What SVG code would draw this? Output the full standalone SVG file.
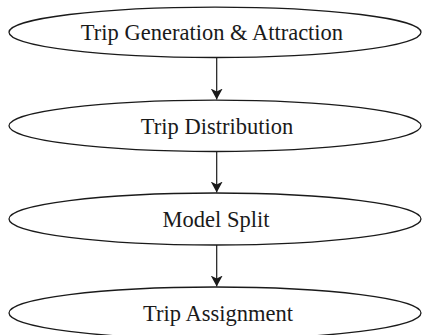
<svg xmlns="http://www.w3.org/2000/svg" width="423" height="335" viewBox="0 0 423 335">
<style>
.node ellipse{fill:#fff;stroke:#1a1a1a;stroke-width:1.3}
.node text{font-family:"Liberation Serif","Times New Roman",serif;font-size:22.5px;fill:#1a1a1a;text-anchor:middle}
.edge{stroke:#1a1a1a;stroke-width:1.2;fill:none;marker-end:url(#ah)}
</style>
<defs>
<marker id="ah" viewBox="0 0 11 12" refX="11" refY="6" markerWidth="11" markerHeight="12" markerUnits="userSpaceOnUse" orient="auto">
<path d="M0,0 L3,6 L0,12 L11,6 Z" fill="#1a1a1a"/>
</marker>
</defs>
<rect width="423" height="335" fill="#fff"/>
<g id="connectors">
<line class="edge" x1="216.7" y1="57.5" x2="216.7" y2="99.5"/>
<line class="edge" x1="216.7" y1="151.5" x2="216.7" y2="192.5"/>
<line class="edge" x1="216.7" y1="245" x2="216.7" y2="286.5"/>
</g>
<g id="n1" class="node">
<ellipse cx="215" cy="32.3" rx="206" ry="25.2"/>
<text x="212" y="40">Trip Generation &amp; Attraction</text>
</g>
<g id="n2" class="node">
<ellipse cx="215" cy="125.8" rx="206" ry="25.7"/>
<text x="217" y="133.5">Trip Distribution</text>
</g>
<g id="n3" class="node">
<ellipse cx="215" cy="219" rx="206" ry="26"/>
<text x="216" y="226.5">Model Split</text>
</g>
<g id="n4" class="node">
<ellipse cx="215" cy="313" rx="206" ry="26"/>
<text x="218" y="320.5">Trip Assignment</text>
</g>
</svg>
